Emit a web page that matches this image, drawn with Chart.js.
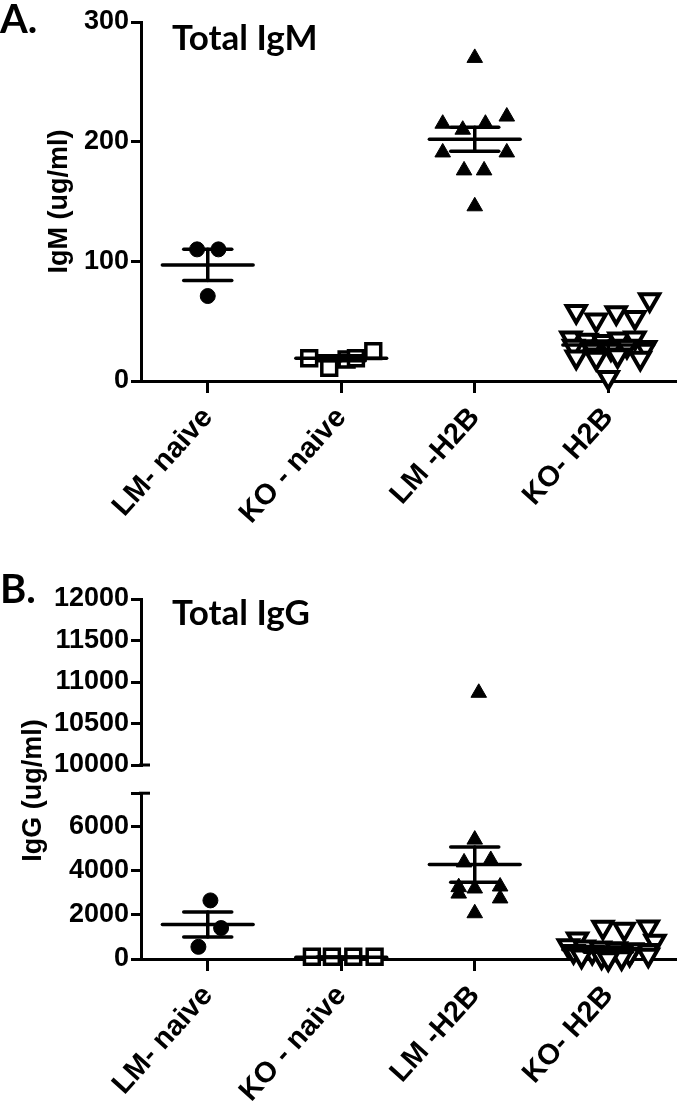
<!DOCTYPE html>
<html>
<head>
<meta charset="utf-8">
<script src="https://cdn.jsdelivr.net/npm/chart.js@4.4.0/dist/chart.umd.min.js"></script>
<style>
  body { margin: 0; background: #fff; }
  #wrap { position: relative; width: 690px; height: 1105px; overflow: hidden; }
  canvas { position: absolute; left: 0; }
  .lbl { position: absolute; font-family: Lato, sans-serif; font-weight: bold; color: #000; line-height: 1; white-space: nowrap; }
  .ytitle { position: absolute; font-family: "Liberation Sans", Arial, sans-serif; font-weight: bold; font-size: 27px;
            width: 200px; text-align: center; transform: rotate(-90deg); line-height: 1; }
</style>
</head>
<body>
<div id="wrap">
  <canvas id="cA" width="690" height="560" style="top:0"></canvas>
  <canvas id="cBtop" width="690" height="215" style="top:570px"></canvas>
  <canvas id="cBbot" width="690" height="330" style="top:775px"></canvas>
  <div class="lbl" style="left:0;top:-2px;font-size:40px">A.</div>
  <div class="lbl" style="left:172px;top:19px;font-size:35px">Total IgM</div>
  <div class="lbl" style="left:0;top:568px;font-size:40px">B.</div>
  <div class="lbl" style="left:172px;top:594px;font-size:35px">Total IgG</div>
  <div class="ytitle" style="left:-68px;top:777px">IgG (ug/ml)</div>
</div>
<script>
// categories
const groups = ['LM- naive', 'KO - naive', 'LM -H2B', 'KO- H2B'];

// A. Total IgM (ug/ml) - points and horizontal spread (fraction of a category)
const igmLmNaive = [110, 110, 71];
const igmLmNaiveJit = [-0.08, 0.08, 0];
const igmKoNaive = [19, 11, 18, 19, 25];
const igmKoNaiveJit = [-0.24, -0.09, 0.04, 0.11, 0.24];
const igmLmH2b = [270, 215, 210, 215, 221, 191, 191, 176, 176, 146];
const igmLmH2bJit = [0, -0.24, -0.09, 0.08, 0.24, -0.24, 0.24, -0.08, 0.07, 0];
const igmKoH2b = [58, 51, 57, 53, 68, 36, 34, 33, 35, 36, 29, 28, 27, 29, 28, 20, 19, 21, 19, 3];
const igmKoH2bJit = [-0.24, -0.09, 0.06, 0.2, 0.31, -0.28, -0.16, -0.04, 0.08, 0.2, -0.26, -0.12, 0.02, 0.14, 0.28, -0.24, -0.09, 0.07, 0.24, 0];
const igmMean = [97, 19, 202, 30];
const igmSem = [13, 2, 10, 3.5];

// B. Total IgG (ug/ml)
const iggLmNaive = [2650, 1400, 550];
const iggLmNaiveJit = [0.02, 0.1, -0.07];
const iggKoNaive = [100, 100, 100, 100];
const iggKoNaiveJit = [-0.22, -0.07, 0.09, 0.25];
const iggLmH2b = [10870, 5400, 4370, 4480, 3250, 2960, 3190, 3280, 2740, 2070];
const iggLmH2bJit = [0.03, 0, -0.08, 0.12, -0.12, -0.12, 0, 0.19, 0.19, 0];
const iggKoH2b = [900, 1440, 1350, 1450, 800, 600, 540, 500, 460, 420, 380, 340, 300, 260, 220, 180, 140, 100, 60, 10];
const iggKoH2bJit = [-0.23, -0.04, 0.12, 0.3, 0.35, -0.3, -0.18, -0.06, 0.06, 0.18, 0.3, -0.26, -0.12, 0.02, 0.16, 0.3, -0.2, -0.05, 0.1, 0];
const iggMean = [1560, 80, 4270, 420];
const iggSem = [570, 15, 800, 120];

const MEAN_HALF = 0.34, CAP_HALF = 0.18;
const FONT = '"Liberation Sans", Arial, sans-serif';

const markers = [
  { pointStyle: 'circle', radius: 7.5, bg: '#000', bw: 1, rot: 0 },
  { pointStyle: 'rect', radius: 10.5, bg: '#fff', bw: 3.5, rot: 0 },
  { pointStyle: 'triangle', radius: 9, bg: '#000', bw: 1, rot: 0 },
  { pointStyle: 'triangle', radius: 11, bg: '#fff', bw: 4, rot: 180 }
];

function pointsSet(vals, jit, i) {
  const m = markers[i];
  return {
    data: vals.map((v, k) => ({ x: i + jit[k], y: v })),
    pointStyle: m.pointStyle, pointRadius: m.radius, pointRotation: m.rot,
    pointBackgroundColor: m.bg, pointBorderColor: '#000', pointBorderWidth: m.bw,
    showLine: false, order: 2
  };
}

function seg(x1, y1, x2, y2) {
  return {
    data: [{ x: x1, y: y1 }, { x: x2, y: y2 }],
    showLine: true, pointRadius: 0, borderColor: '#000', borderWidth: 3.5,
    borderCapStyle: 'round', order: 1
  };
}

function meanSem(means, sems) {
  const out = [];
  means.forEach((m, i) => {
    const s = sems[i];
    out.push(seg(i - MEAN_HALF, m, i + MEAN_HALF, m));
    out.push(seg(i, m - s, i, m + s));
    out.push(seg(i - CAP_HALF, m + s, i + CAP_HALF, m + s));
    out.push(seg(i - CAP_HALF, m - s, i + CAP_HALF, m - s));
  });
  return out;
}

const breakCaps = {
  id: 'breakCaps',
  afterDraw(chart, args, opts) {
    if (!opts.at) return;
    const ctx = chart.ctx, y = chart.scales.y, left = chart.chartArea.left;
    ctx.save();
    ctx.strokeStyle = '#000';
    ctx.lineWidth = 3;
    opts.at.forEach(v => {
      const py = y.getPixelForValue(v);
      ctx.beginPath(); ctx.moveTo(left - 2, py); ctx.lineTo(left + 9, py); ctx.stroke();
    });
    ctx.restore();
  }
};

function xScale(show, height) {
  return {
    type: 'linear', min: -0.5, max: 3.5, display: show,
    afterBuildTicks: s => { s.ticks = groups.map((g, i) => ({ value: i })); },
    afterFit: s => { if (height) s.height = height; },
    border: { color: '#000', width: 3 },
    grid: { drawOnChartArea: false, drawTicks: true, tickLength: 12, color: '#000', lineWidth: 3 },
    ticks: {
      autoSkip: false, minRotation: 48, maxRotation: 48, color: '#000', padding: 8,
      font: { family: FONT, size: 29, weight: 'bold' },
      callback: v => groups[v]
    }
  };
}

function yScale(min, max, tickVals, blankAt, title) {
  return {
    type: 'linear', min: min, max: max,
    afterBuildTicks: s => { s.ticks = tickVals.map(v => ({ value: v })); },
    afterFit: s => { s.width = 141; },
    border: { color: '#000', width: 3 },
    grid: { drawOnChartArea: false, drawTicks: true, tickLength: 10, color: '#000', lineWidth: 3 },
    ticks: {
      color: '#000', padding: 2,
      font: { family: FONT, size: 27, weight: 'bold' },
      callback: v => (v === blankAt ? '' : v)
    },
    title: title ? {
      display: true, text: title, color: '#000',
      font: { family: FONT, size: 27, weight: 'bold' },
      padding: { top: 43, bottom: 0 }
    } : { display: false }
  };
}

function makeChart(id, datasets, x, y, padding, clip, caps) {
  datasets.forEach(d => { d.clip = clip; });
  return new Chart(document.getElementById(id), {
    type: 'scatter',
    data: { datasets: datasets },
    options: {
      responsive: false, animation: false, devicePixelRatio: 1,
      layout: { padding: padding },
      scales: { x: x, y: y },
      plugins: { legend: { display: false }, tooltip: { enabled: false }, breakCaps: { at: caps } }
    },
    plugins: [breakCaps]
  });
}

// panel A
const dsA = [
  pointsSet(igmLmNaive, igmLmNaiveJit, 0),
  pointsSet(igmKoNaive, igmKoNaiveJit, 1),
  pointsSet(igmLmH2b, igmLmH2bJit, 2),
  pointsSet(igmKoH2b, igmKoH2bJit, 3)
].concat(meanSem(igmMean, igmSem));
makeChart('cA', dsA, xScale(true, 560 - 381),
  yScale(0, 300, [0, 100, 200, 300], null, 'IgM (ug/ml)'),
  { top: 22, right: 7, bottom: 0, left: 0 }, false, null);

// panel B, shared data for both axis segments
function dsB() {
  return [
    pointsSet(iggLmNaive, iggLmNaiveJit, 0),
    pointsSet(iggKoNaive, iggKoNaiveJit, 1),
    pointsSet(iggLmH2b, iggLmH2bJit, 2),
    pointsSet(iggKoH2b, iggKoH2bJit, 3)
  ].concat(meanSem(iggMean, iggSem));
}
makeChart('cBtop', dsB(), xScale(false, 0),
  yScale(10000, 12000, [10000, 10500, 11000, 11500, 12000], null, null),
  { top: 29, right: 7, bottom: 20, left: 0 }, 20, [10000]);
makeChart('cBbot', dsB(), xScale(true, 330 - 184),
  yScale(0, 7500, [0, 2000, 4000, 6000, 7500], 7500, null),
  { top: 16, right: 7, bottom: 0, left: 0 }, { left: 20, right: 20, top: 0, bottom: 20 }, [7500]);
</script>
</body>
</html>
